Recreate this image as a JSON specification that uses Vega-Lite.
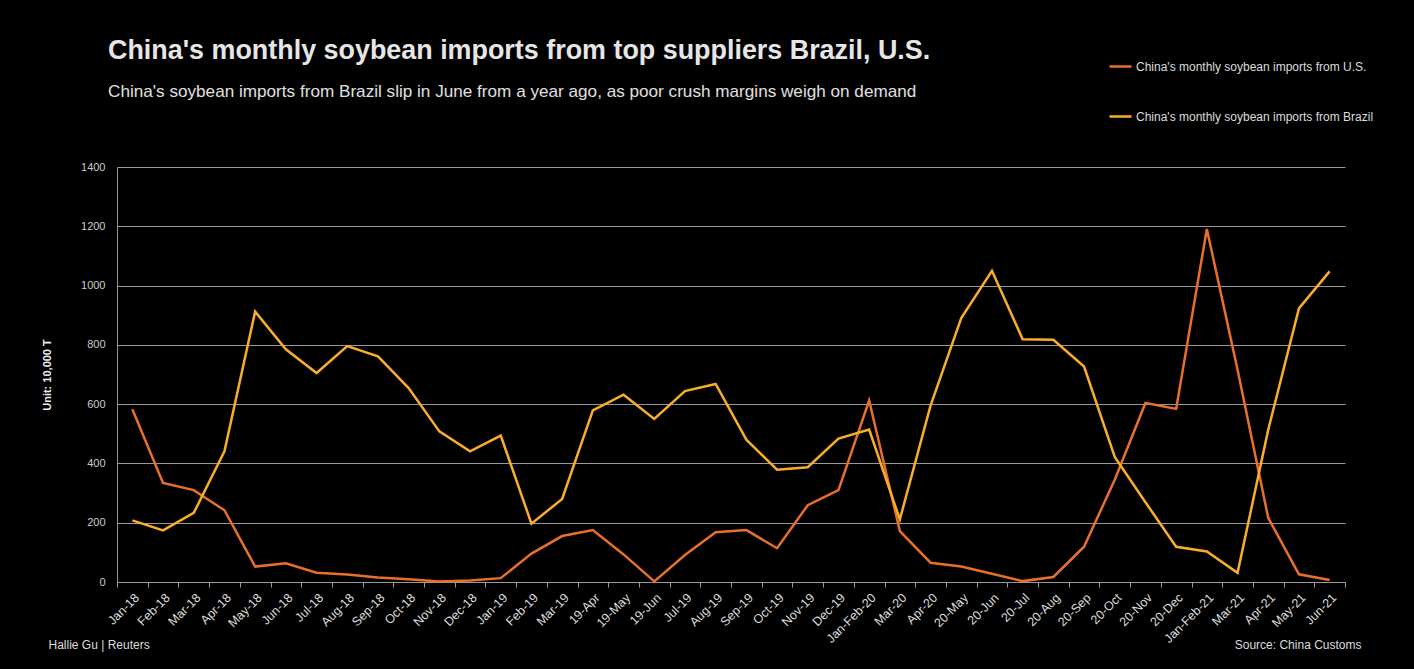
{
  "$schema": "https://vega.github.io/schema/vega-lite/v6.json",
  "width": 1228,
  "height": 415,
  "autosize": {"type": "none"},
  "padding": {"left": 117, "top": 167, "right": 69, "bottom": 87},
  "background": "#000000",
  "title": {
    "text": "China's monthly soybean imports from top suppliers Brazil, U.S.",
    "subtitle": "China's soybean imports from Brazil slip in June from a year ago, as poor crush margins weigh on demand",
    "anchor": "start",
    "frame": "group",
    "dx": -9,
    "offset": -47,
    "font": "Liberation Sans",
    "fontSize": 26.9,
    "fontWeight": "bold",
    "color": "#e6e6e6",
    "subtitleFont": "Liberation Sans",
    "subtitleFontSize": 17.15,
    "subtitleColor": "#e0e0e0",
    "subtitlePadding": 18
  },
  "config": {"view": {"stroke": null}, "font": "Liberation Sans"},
  "data": {
    "values": [
      {"month": "Jan-18", "series": "China's monthly soybean imports from U.S.", "value": 583},
      {"month": "Feb-18", "series": "China's monthly soybean imports from U.S.", "value": 334},
      {"month": "Mar-18", "series": "China's monthly soybean imports from U.S.", "value": 310},
      {"month": "Apr-18", "series": "China's monthly soybean imports from U.S.", "value": 242},
      {"month": "May-18", "series": "China's monthly soybean imports from U.S.", "value": 52},
      {"month": "Jun-18", "series": "China's monthly soybean imports from U.S.", "value": 63},
      {"month": "Jul-18", "series": "China's monthly soybean imports from U.S.", "value": 31},
      {"month": "Aug-18", "series": "China's monthly soybean imports from U.S.", "value": 25},
      {"month": "Sep-18", "series": "China's monthly soybean imports from U.S.", "value": 15},
      {"month": "Oct-18", "series": "China's monthly soybean imports from U.S.", "value": 9},
      {"month": "Nov-18", "series": "China's monthly soybean imports from U.S.", "value": 2},
      {"month": "Dec-18", "series": "China's monthly soybean imports from U.S.", "value": 5},
      {"month": "Jan-19", "series": "China's monthly soybean imports from U.S.", "value": 13},
      {"month": "Feb-19", "series": "China's monthly soybean imports from U.S.", "value": 96},
      {"month": "Mar-19", "series": "China's monthly soybean imports from U.S.", "value": 155},
      {"month": "19-Apr", "series": "China's monthly soybean imports from U.S.", "value": 175},
      {"month": "19-May", "series": "China's monthly soybean imports from U.S.", "value": 93},
      {"month": "19-Jun", "series": "China's monthly soybean imports from U.S.", "value": 2},
      {"month": "Jul-19", "series": "China's monthly soybean imports from U.S.", "value": 91},
      {"month": "Aug-19", "series": "China's monthly soybean imports from U.S.", "value": 168},
      {"month": "Sep-19", "series": "China's monthly soybean imports from U.S.", "value": 175},
      {"month": "Oct-19", "series": "China's monthly soybean imports from U.S.", "value": 114},
      {"month": "Nov-19", "series": "China's monthly soybean imports from U.S.", "value": 259},
      {"month": "Dec-19", "series": "China's monthly soybean imports from U.S.", "value": 310},
      {"month": "Jan-Feb-20", "series": "China's monthly soybean imports from U.S.", "value": 612},
      {"month": "Mar-20", "series": "China's monthly soybean imports from U.S.", "value": 172},
      {"month": "Apr-20", "series": "China's monthly soybean imports from U.S.", "value": 65},
      {"month": "20-May", "series": "China's monthly soybean imports from U.S.", "value": 52},
      {"month": "20-Jun", "series": "China's monthly soybean imports from U.S.", "value": 28},
      {"month": "20-Jul", "series": "China's monthly soybean imports from U.S.", "value": 3},
      {"month": "20-Aug", "series": "China's monthly soybean imports from U.S.", "value": 17},
      {"month": "20-Sep", "series": "China's monthly soybean imports from U.S.", "value": 119},
      {"month": "20-Oct", "series": "China's monthly soybean imports from U.S.", "value": 345},
      {"month": "20-Nov", "series": "China's monthly soybean imports from U.S.", "value": 604},
      {"month": "20-Dec", "series": "China's monthly soybean imports from U.S.", "value": 584},
      {"month": "Jan-Feb-21", "series": "China's monthly soybean imports from U.S.", "value": 1191},
      {"month": "Mar-21", "series": "China's monthly soybean imports from U.S.", "value": 716},
      {"month": "Apr-21", "series": "China's monthly soybean imports from U.S.", "value": 216},
      {"month": "May-21", "series": "China's monthly soybean imports from U.S.", "value": 26},
      {"month": "Jun-21", "series": "China's monthly soybean imports from U.S.", "value": 7},
      {"month": "Jan-18", "series": "China's monthly soybean imports from Brazil", "value": 208},
      {"month": "Feb-18", "series": "China's monthly soybean imports from Brazil", "value": 174},
      {"month": "Mar-18", "series": "China's monthly soybean imports from Brazil", "value": 233},
      {"month": "Apr-18", "series": "China's monthly soybean imports from Brazil", "value": 441},
      {"month": "May-18", "series": "China's monthly soybean imports from Brazil", "value": 912},
      {"month": "Jun-18", "series": "China's monthly soybean imports from Brazil", "value": 785},
      {"month": "Jul-18", "series": "China's monthly soybean imports from Brazil", "value": 705},
      {"month": "Aug-18", "series": "China's monthly soybean imports from Brazil", "value": 796},
      {"month": "Sep-18", "series": "China's monthly soybean imports from Brazil", "value": 761},
      {"month": "Oct-18", "series": "China's monthly soybean imports from Brazil", "value": 654},
      {"month": "Nov-18", "series": "China's monthly soybean imports from Brazil", "value": 508},
      {"month": "Dec-18", "series": "China's monthly soybean imports from Brazil", "value": 441},
      {"month": "Jan-19", "series": "China's monthly soybean imports from Brazil", "value": 494},
      {"month": "Feb-19", "series": "China's monthly soybean imports from Brazil", "value": 197},
      {"month": "Mar-19", "series": "China's monthly soybean imports from Brazil", "value": 280},
      {"month": "19-Apr", "series": "China's monthly soybean imports from Brazil", "value": 579},
      {"month": "19-May", "series": "China's monthly soybean imports from Brazil", "value": 632},
      {"month": "19-Jun", "series": "China's monthly soybean imports from Brazil", "value": 550},
      {"month": "Jul-19", "series": "China's monthly soybean imports from Brazil", "value": 644},
      {"month": "Aug-19", "series": "China's monthly soybean imports from Brazil", "value": 668},
      {"month": "Sep-19", "series": "China's monthly soybean imports from Brazil", "value": 480},
      {"month": "Oct-19", "series": "China's monthly soybean imports from Brazil", "value": 379},
      {"month": "Nov-19", "series": "China's monthly soybean imports from Brazil", "value": 387},
      {"month": "Dec-19", "series": "China's monthly soybean imports from Brazil", "value": 484},
      {"month": "Jan-Feb-20", "series": "China's monthly soybean imports from Brazil", "value": 514},
      {"month": "Mar-20", "series": "China's monthly soybean imports from Brazil", "value": 211},
      {"month": "Apr-20", "series": "China's monthly soybean imports from Brazil", "value": 595},
      {"month": "20-May", "series": "China's monthly soybean imports from Brazil", "value": 890},
      {"month": "20-Jun", "series": "China's monthly soybean imports from Brazil", "value": 1050},
      {"month": "20-Jul", "series": "China's monthly soybean imports from Brazil", "value": 819},
      {"month": "20-Aug", "series": "China's monthly soybean imports from Brazil", "value": 817},
      {"month": "20-Sep", "series": "China's monthly soybean imports from Brazil", "value": 727},
      {"month": "20-Oct", "series": "China's monthly soybean imports from Brazil", "value": 422},
      {"month": "20-Nov", "series": "China's monthly soybean imports from Brazil", "value": 269},
      {"month": "20-Dec", "series": "China's monthly soybean imports from Brazil", "value": 119},
      {"month": "Jan-Feb-21", "series": "China's monthly soybean imports from Brazil", "value": 103},
      {"month": "Mar-21", "series": "China's monthly soybean imports from Brazil", "value": 31},
      {"month": "Apr-21", "series": "China's monthly soybean imports from Brazil", "value": 514},
      {"month": "May-21", "series": "China's monthly soybean imports from Brazil", "value": 923},
      {"month": "Jun-21", "series": "China's monthly soybean imports from Brazil", "value": 1048}
    ]
  },
  "layer": [
    {
      "mark": {"type": "line", "strokeWidth": 2.5},
      "encoding": {
        "x": {
          "field": "month",
          "type": "nominal",
          "sort": null,
          "bandPosition": 0.5,
          "scale": {"type": "band", "paddingInner": 0, "paddingOuter": 0},
          "axis": {
            "title": "Hallie Gu | Reuters",
            "titleX": -69,
            "titleY": 62,
            "titleAlign": "left",
            "titleBaseline": "middle",
            "titleFontSize": 12,
            "titleFontWeight": "normal",
            "titleColor": "#dddddd",
            "labelAngle": -45,
            "labelFontSize": 12.5,
            "labelColor": "#dddddd",
            "labelPadding": 4,
            "tickBand": "extent",
            "tickColor": "#999999",
            "tickSize": 5,
            "domainColor": "#999999",
            "grid": false
          }
        },
        "y": {
          "field": "value",
          "type": "quantitative",
          "scale": {"domain": [0, 1400]},
          "axis": {
            "values": [0, 200, 400, 600, 800, 1000, 1200, 1400],
            "format": "d",
            "title": "Unit: 10,000 T",
            "titleFontSize": 11,
            "titleFontWeight": "bold",
            "titleColor": "#eeeeee",
            "titlePadding": 28,
            "labelFontSize": 11,
            "labelColor": "#cccccc",
            "labelPadding": 12,
            "ticks": false,
            "domainColor": "#999999",
            "gridColor": "#999999",
            "gridWidth": 1
          }
        },
        "color": {
          "field": "series",
          "type": "nominal",
          "scale": {
            "domain": ["China's monthly soybean imports from U.S.", "China's monthly soybean imports from Brazil"],
            "range": ["#E8702A", "#F9AE2A"]
          },
          "legend": {
            "title": null,
            "orient": "none",
            "legendX": 991,
            "legendY": -113,
            "symbolType": "stroke",
            "symbolSize": 484,
            "symbolStrokeWidth": 2.5,
            "rowPadding": 31,
            "labelFontSize": 12,
            "labelLimit": 400,
            "labelColor": "#dddddd",
            "labelOffset": 3
          }
        }
      }
    },
    {
      "mark": {"type": "rule", "opacity": 0},
      "encoding": {
        "y": {
          "datum": 0,
          "type": "quantitative",
          "axis": {
            "orient": "right",
            "title": "Source: China Customs",
            "labels": false,
            "ticks": false,
            "domain": false,
            "grid": false,
            "titleAngle": 0,
            "titleX": 16,
            "titleY": 477,
            "titleAlign": "right",
            "titleBaseline": "middle",
            "titleFontSize": 12,
            "titleFontWeight": "normal",
            "titleColor": "#dddddd"
          }
        }
      }
    }
  ],
  "resolve": {"axis": {"y": "independent"}}
}
